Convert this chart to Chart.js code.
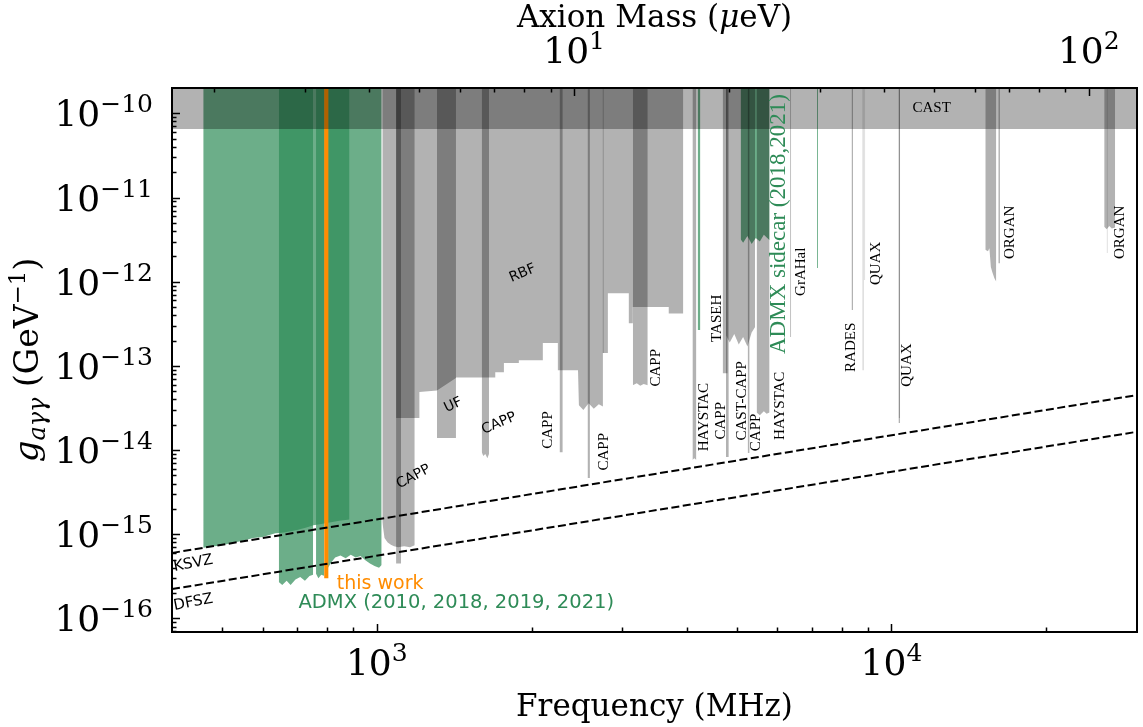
<!DOCTYPE html>
<html>
<head>
<meta charset="utf-8">
<script src="https://cdn.jsdelivr.net/npm/chart.js@4.4.0/dist/chart.umd.min.js"></script>
<style>
  body { margin: 0; background: #fff; }
  #wrap { width: 1143px; height: 727px; position: relative; }
</style>
</head>
<body>
<div id="wrap"><canvas id="axionChart"></canvas></div>
<script>
// frequency in MHz, coupling g_agg in GeV^-1
const MHZ_TO_UEV = 4.1357e-3;
const freqLimits = [400, 30000];
const gLimits = [6.9e-17, 2e-10];

const freqTicks = [1e3, 1e4];
const massTicks = [10, 100];
const gTicks = [1e-10, 1e-11, 1e-12, 1e-13, 1e-14, 1e-15, 1e-16];

// benchmark models (end points)
const ksvzFreq = [400, 30000];
const ksvzG = [6.0e-16, 4.5e-14];
const dfszFreq = [400, 30000];
const dfszG = [2.23e-16, 1.65e-14];

// ADMX
const admxOldFreq = [460, 500, 525, 550, 575, 600, 635, 660, 700, 730, 753, 780, 810, 845, 885];
const admxOldG = [6.9e-16, 7.4e-16, 7.9e-16, 8.4e-16, 9.0e-16, 9.3e-16, 1.03e-15, 1.05e-15, 1.12e-15, 1.2e-15, 1.28e-15, 1.32e-15, 1.38e-15, 1.45e-15, 1.5e-15];
const admxR1aFreq = [645, 655, 668, 680, 695, 710, 725, 740, 752];
const admxR1aG = [2.7e-16, 2.5e-16, 2.8e-16, 2.5e-16, 2.9e-16, 3.1e-16, 2.8e-16, 3.2e-16, 3.3e-16];
const admxR1bFreq = [762, 770, 780, 790];
const admxR1bG = [3.4e-16, 3.0e-16, 3.3e-16, 3.2e-16];
const admxR1cFreq = [804, 815, 830, 850, 870, 890, 910, 930, 950, 970, 990, 1010, 1022];
const admxR1cG = [4.0e-16, 4.6e-16, 5.3e-16, 5.6e-16, 5.2e-16, 5.7e-16, 5.3e-16, 5.5e-16, 4.9e-16, 4.5e-16, 4.2e-16, 4.0e-16, 4.3e-16];
const sidecarAFreq = [4202, 4253];
const sidecarAG = [2.66e-13, 2.66e-13];
const sidecarBFreq = [5093, 5150, 5250, 5350, 5450, 5550, 5650, 5797];
const sidecarBG = [3.2e-12, 2.9e-12, 3.5e-12, 2.8e-12, 3.3e-12, 3.0e-12, 3.6e-12, 3.1e-12];
const sidecarCFreq = [7170, 7200];
const sidecarCG = [1.45e-12, 1.45e-12];

// this work
const thisWorkFreq = [790, 806];
const thisWorkG = [3.0e-16, 3.0e-16];

// other haloscopes
const cappMaxFreq = [1025, 1035, 1050, 1065, 1080, 1100, 1130, 1160, 1185];
const cappMaxG = [1.4e-15, 9e-16, 8e-16, 7.5e-16, 7.2e-16, 7.0e-16, 7.2e-16, 7.0e-16, 7.4e-16];
const capp8tbFreq = [1090, 1115];
const capp8tbG = [4.5e-16, 4.5e-16];
const rbfFreq = [1090, 1210, 1210, 1309, 1425, 1425, 1699, 1699, 1766, 1766, 1888, 1888, 2102, 2102, 2248, 2248, 2460, 2470, 2520, 2580, 2640, 2700, 2750, 2750, 2812, 2812, 3088, 3088, 3144, 3144, 3692, 3692, 3941];
const rbfG = [2.4e-14, 2.4e-14, 4.9e-14, 5.1e-14, 7.2e-14, 7.3e-14, 7.3e-14, 8.4e-14, 8.4e-14, 1.08e-13, 1.08e-13, 1.17e-13, 1.17e-13, 1.87e-13, 1.87e-13, 8.9e-14, 8.9e-14, 3.4e-14, 3.0e-14, 3.6e-14, 3.1e-14, 3.5e-14, 3.3e-14, 1.42e-13, 1.42e-13, 7.3e-13, 7.3e-13, 3.2e-13, 3.2e-13, 5.0e-13, 5.0e-13, 4.2e-13, 4.2e-13];
const ufFreq = [1309, 1425];
const ufG = [1.39e-14, 1.39e-14];
const capp16Freq = [1599, 1610, 1625, 1640, 1652];
const capp16G = [9.5e-15, 8.5e-15, 9.0e-15, 8.0e-15, 9.0e-15];
const capp22Freq = [2265, 2298];
const capp22G = [9.4e-15, 9.4e-15];
const capp26Freq = [2567, 2595];
const capp26G = [4.65e-15, 4.65e-15];
const capp27Freq = [2746, 2760];
const capp27G = [1.42e-13, 1.42e-13];
const capp32Freq = [3144, 3200, 3250, 3300, 3361];
const capp32G = [5.9e-14, 6.2e-14, 5.8e-14, 6.1e-14, 5.9e-14];
const haystacAFreq = [4105, 4140, 4178];
const haystacAG = [7.6e-15, 8.0e-15, 7.6e-15];
const tasehFreq = [4699, 4806];
const tasehG = [8.2e-14, 8.2e-14];
const capp48Freq = [4770, 4830];
const capp48G = [8.25e-15, 8.25e-15];
const castCappFreq = [4774, 4850, 4950, 5050, 5150, 5250, 5350, 5434];
const castCappG = [2.3e-13, 1.9e-13, 2.4e-13, 1.8e-13, 2.2e-13, 1.7e-13, 2.5e-13, 2.9e-13];
const capp53Freq = [5255, 5302];
const capp53G = [9.2e-15, 9.2e-15];
const haystacBFreq = [5470, 5550, 5650, 5720, 5797];
const haystacBG = [2.8e-14, 2.6e-14, 2.9e-14, 2.7e-14, 2.8e-14];
const grahalFreq = [6355, 6385];
const grahalG = [2.2e-13, 2.2e-13];
const radesFreq = [8364, 8420];
const radesG = [4.6e-13, 4.6e-13];
const quaxAFreq = [8784, 8830];
const quaxAG = [8.9e-14, 8.9e-14];
const quaxBFreq = [8860, 8890];
const quaxBG = [1.05e-12, 1.05e-12];
const quaxCFreq = [10318, 10396];
const quaxCG = [2.1e-14, 2.1e-14];
const quaxDFreq = [10330, 10380];
const quaxDG = [2.4e-14, 2.4e-14];
const organAFreq = [15218, 15400, 15500, 15600, 15700, 15850, 15985];
const organAG = [2.4e-12, 2.3e-12, 2.5e-12, 1.5e-12, 1.3e-12, 1.1e-12, 1.0e-12];
const organBFreq = [16129, 16250];
const organBG = [1.66e-12, 1.66e-12];
const organCFreq = [25904, 26200, 26500, 26800, 27209];
const organCG = [4.5e-12, 4.2e-12, 4.6e-12, 4.3e-12, 4.4e-12];
const organDFreq = [26200, 26300];
const organDG = [2.2e-12, 2.2e-12];

// helioscope
const castFreq = [400, 30000];
const castG = [6.5e-11, 6.5e-11];

const GRAY = 'rgba(0,0,0,0.3)';
const GREEN = 'rgba(46,139,87,0.7)';
const GREEN_TXT = 'rgb(46,139,87)';
const ORANGE = 'rgb(255,140,0)';

const SERIF = '"DejaVu Serif"';
const SMALL_SERIF = '15px "Liberation Serif"';
const SANS = '"DejaVu Sans"';

const regionLabels = [
  { text: 'CAST', f: 11971, g: 1.147e-10, angle: 0, font: SMALL_SERIF },
  { text: 'RBF', f: 1920, g: 1.256e-12, angle: -23, font: '14px ' + SANS },
  { text: 'UF', f: 1408, g: 3.42e-14, angle: -25, font: '14px ' + SANS },
  { text: 'CAPP', f: 1727, g: 2.07e-14, angle: -23, font: '14px ' + SANS },
  { text: 'CAPP', f: 1178, g: 4.81e-15, angle: -28, font: '14px ' + SANS },
  { text: 'CAPP', f: 2153, g: 1.73e-14, angle: -90, font: SMALL_SERIF },
  { text: 'CAPP', f: 2762, g: 9.54e-15, angle: -90, font: SMALL_SERIF },
  { text: 'CAPP', f: 3494, g: 9.5e-14, angle: -90, font: SMALL_SERIF },
  { text: 'HAYSTAC', f: 4317, g: 2.46e-14, angle: -90, font: SMALL_SERIF },
  { text: 'CAPP', f: 4673, g: 2.23e-14, angle: -90, font: SMALL_SERIF },
  { text: 'TASEH', f: 4581, g: 3.67e-13, angle: -90, font: SMALL_SERIF },
  { text: 'CAST-CAPP', f: 5131, g: 3.85e-14, angle: -90, font: SMALL_SERIF },
  { text: 'CAPP', f: 5462, g: 1.62e-14, angle: -90, font: SMALL_SERIF },
  { text: 'HAYSTAC', f: 6063, g: 3.36e-14, angle: -90, font: SMALL_SERIF },
  { text: 'ADMX sidecar (2018,2021)', f: 6036, g: 4.84e-12, angle: -90, font: '23px "Liberation Serif"', color: GREEN_TXT },
  { text: 'GrAHal', f: 6680, g: 1.312e-12, angle: -90, font: SMALL_SERIF },
  { text: 'RADES', f: 8333, g: 1.66e-13, angle: -90, font: SMALL_SERIF },
  { text: 'QUAX', f: 9339, g: 1.652e-12, angle: -90, font: SMALL_SERIF },
  { text: 'QUAX', f: 10708, g: 1.022e-13, angle: -90, font: SMALL_SERIF },
  { text: 'ORGAN', f: 16992, g: 3.86e-12, angle: -90, font: SMALL_SERIF },
  { text: 'ORGAN', f: 27786, g: 3.86e-12, angle: -90, font: SMALL_SERIF },
  { text: 'KSVZ', f: 440, g: 4.5e-16, angle: -11, font: '15px ' + SANS },
  { text: 'DFSZ', f: 440, g: 1.55e-16, angle: -11, font: '15px ' + SANS },
  { text: 'this work', f: 1015, g: 2.56e-16, angle: 0, font: '19px ' + SANS, color: ORANGE },
  { text: 'ADMX (2010, 2018, 2019, 2021)', f: 1427, g: 1.51e-16, angle: 0, font: '19.5px ' + SANS, color: GREEN_TXT }
];

function pts(fs, gs) {
  return fs.map((f, i) => ({ x: f, y: gs[i] }));
}
function area(fs, gs, color, order) {
  return {
    data: pts(fs, gs), backgroundColor: color, borderColor: 'transparent',
    borderWidth: 0, pointRadius: 0, fill: 'end', tension: 0, order: order
  };
}
function dashed(fs, gs) {
  return {
    data: pts(fs, gs), borderColor: '#000', borderWidth: 2, borderDash: [8, 3.5],
    pointRadius: 0, fill: false, order: 0
  };
}

const datasets = [
  dashed(ksvzFreq, ksvzG),
  dashed(dfszFreq, dfszG),
  area(castFreq, castG, GRAY, 1),
  area(thisWorkFreq, thisWorkG, ORANGE, 2),
  area(cappMaxFreq, cappMaxG, GRAY, 3),
  area(capp8tbFreq, capp8tbG, GRAY, 3),
  area(rbfFreq, rbfG, GRAY, 3),
  area(ufFreq, ufG, GRAY, 3),
  area(capp16Freq, capp16G, GRAY, 3),
  area(capp22Freq, capp22G, GRAY, 3),
  area(capp26Freq, capp26G, GRAY, 3),
  area(capp27Freq, capp27G, GRAY, 3),
  area(capp32Freq, capp32G, GRAY, 3),
  area(haystacAFreq, haystacAG, GRAY, 3),
  area(tasehFreq, tasehG, GRAY, 3),
  area(capp48Freq, capp48G, GRAY, 3),
  area(castCappFreq, castCappG, GRAY, 3),
  area(capp53Freq, capp53G, GRAY, 3),
  area(haystacBFreq, haystacBG, GRAY, 3),
  area(grahalFreq, grahalG, GRAY, 3),
  area(radesFreq, radesG, GRAY, 3),
  area(quaxAFreq, quaxAG, GRAY, 3),
  area(quaxBFreq, quaxBG, GRAY, 3),
  area(quaxCFreq, quaxCG, GRAY, 3),
  area(quaxDFreq, quaxDG, GRAY, 3),
  area(organAFreq, organAG, GRAY, 3),
  area(organBFreq, organBG, GRAY, 3),
  area(organCFreq, organCG, GRAY, 3),
  area(organDFreq, organDG, GRAY, 3),
  area(admxOldFreq, admxOldG, GREEN, 4),
  area(admxR1aFreq, admxR1aG, GREEN, 4),
  area(admxR1bFreq, admxR1bG, GREEN, 4),
  area(admxR1cFreq, admxR1cG, GREEN, 4),
  area(sidecarAFreq, sidecarAG, GREEN, 4),
  area(sidecarBFreq, sidecarBG, GREEN, 4),
  area(sidecarCFreq, sidecarCG, GREEN, 4)
];

function richText(ctx, pieces, x, y, align) {
  let total = 0;
  pieces.forEach(p => { ctx.font = p.font; p.w = ctx.measureText(p.t).width; total += p.w; });
  let cx = align === 'right' ? x - total : (align === 'left' ? x : x - total / 2);
  ctx.textAlign = 'left';
  ctx.textBaseline = 'alphabetic';
  pieces.forEach(p => { ctx.font = p.font; ctx.fillText(p.t, cx, y + (p.dy || 0)); cx += p.w; });
}
function powLabel(ctx, v, x, y, align) {
  const e = Math.round(Math.log10(v));
  const sup = String(e).replace('-', '\u2212');
  richText(ctx, [
    { t: '10', font: '36px ' + SERIF },
    { t: sup, font: '25px ' + SERIF, dy: -14 }
  ], x, y, align);
}
function logTicks(min, max) {
  const out = [];
  for (let e = Math.floor(Math.log10(min)); e <= Math.ceil(Math.log10(max)); e++) {
    for (let k = 1; k <= 9; k++) {
      const v = k * Math.pow(10, e);
      if (v > min * 1.0001 && v < max * 0.9999) out.push({ v: v, major: k === 1 });
    }
  }
  return out;
}

const decor = {
  id: 'decor',
  afterDraw(chart) {
    const { ctx, chartArea: a, scales } = chart;
    const xs = scales.x, ys = scales.y, xt = scales.xTop;
    ctx.save();
    ctx.fillStyle = '#000';
    ctx.strokeStyle = '#000';

    // ticks pointing inward
    ctx.lineWidth = 1.5;
    ctx.beginPath();
    logTicks(ys.min, ys.max).forEach(t => {
      const p = Math.round(ys.getPixelForValue(t.v)) + 0.5;
      ctx.moveTo(a.left, p); ctx.lineTo(a.left + (t.major ? 8 : 4.5), p);
    });
    logTicks(xs.min, xs.max).forEach(t => {
      const p = Math.round(xs.getPixelForValue(t.v)) + 0.5;
      ctx.moveTo(p, a.bottom); ctx.lineTo(p, a.bottom - (t.major ? 8 : 4.5));
    });
    logTicks(xt.min, xt.max).forEach(t => {
      const p = Math.round(xt.getPixelForValue(t.v)) + 0.5;
      ctx.moveTo(p, a.top); ctx.lineTo(p, a.top + (t.major ? 8 : 4.5));
    });
    ctx.stroke();

    // frame
    ctx.lineWidth = 2;
    ctx.strokeRect(a.left, a.top, a.right - a.left, a.bottom - a.top);

    // tick labels
    freqTicks.forEach(v => powLabel(ctx, v, xs.getPixelForValue(v), a.bottom + 43, 'center'));
    massTicks.forEach(v => powLabel(ctx, v, xt.getPixelForValue(v), a.top - 25, 'center'));
    gTicks.forEach(v => powLabel(ctx, v, a.left - 19, ys.getPixelForValue(v) + 13, 'right'));

    // axis titles
    const midX = (a.left + a.right) / 2;
    richText(ctx, [{ t: 'Frequency (MHz)', font: '31px ' + SERIF }], midX, a.bottom + 84, 'center');
    richText(ctx, [
      { t: 'Axion Mass (', font: '31px ' + SERIF },
      { t: '\u03bc', font: 'italic 31px ' + SERIF },
      { t: 'eV)', font: '31px ' + SERIF }
    ], midX, a.top - 61, 'center');
    ctx.save();
    ctx.translate(a.left - 134, (a.top + a.bottom) / 2);
    ctx.rotate(-Math.PI / 2);
    richText(ctx, [
      { t: 'g', font: 'italic 34px ' + SERIF },
      { t: 'a\u03b3\u03b3', font: 'italic 24px ' + SERIF, dy: 7 },
      { t: ' (GeV', font: '33px ' + SERIF },
      { t: '\u22121', font: '23px ' + SERIF, dy: -13 },
      { t: ')', font: '33px ' + SERIF }
    ], 0, 0, 'center');
    ctx.restore();

    // region labels
    regionLabels.forEach(l => {
      ctx.save();
      ctx.translate(xs.getPixelForValue(l.f), ys.getPixelForValue(l.g));
      ctx.rotate(l.angle * Math.PI / 180);
      ctx.font = l.font;
      ctx.fillStyle = l.color || '#000';
      ctx.textAlign = 'center';
      ctx.textBaseline = 'middle';
      ctx.fillText(l.text, 0, 0);
      ctx.restore();
    });
    ctx.restore();
  }
};

new Chart(document.getElementById('axionChart'), {
  type: 'line',
  data: { datasets: datasets },
  options: {
    responsive: true,
    maintainAspectRatio: false,
    animation: false,
    events: [],
    layout: { padding: { left: 172, right: 6, top: 88, bottom: 95 } },
    plugins: { legend: { display: false }, tooltip: { enabled: false } },
    scales: {
      x: { type: 'logarithmic', min: freqLimits[0], max: freqLimits[1], display: false },
      xTop: {
        type: 'logarithmic', position: 'top', display: false,
        min: freqLimits[0] * MHZ_TO_UEV, max: freqLimits[1] * MHZ_TO_UEV
      },
      y: { type: 'logarithmic', min: gLimits[0], max: gLimits[1], display: false }
    }
  },
  plugins: [decor]
});
</script>
</body>
</html>
